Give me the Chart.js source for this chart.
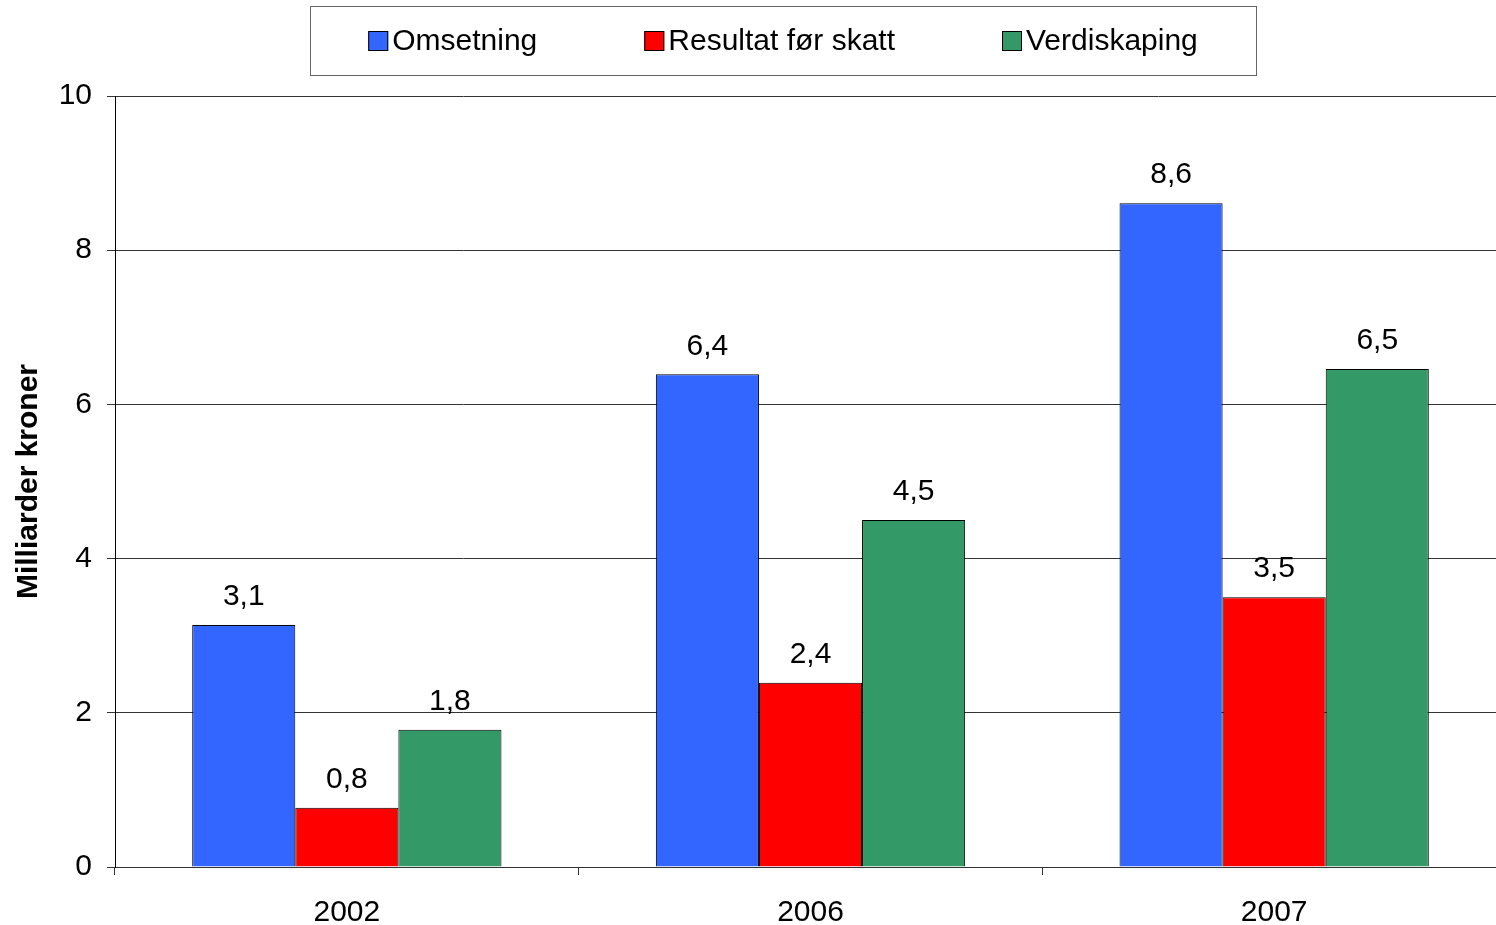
<!DOCTYPE html>
<html>
<head>
<meta charset="utf-8">
<script src="https://cdn.jsdelivr.net/npm/chart.js@4"></script>
<style>
  html, body { margin: 0; padding: 0; background: #fff; overflow: hidden; }
  #wrap { width: 1506px; height: 925px; }
</style>
</head>
<body>
<div id="wrap"><canvas id="myChart"></canvas></div>
<script>
const years = ["2002", "2006", "2007"];
const omsetning = [3.14, 6.39, 8.61];
const resultat = [0.77, 2.39, 3.5];
const verdiskaping = [1.78, 4.5, 6.46];
const yTicks = [0, 2, 4, 6, 8, 10];

const FONT = "'Liberation Sans', Arial, sans-serif";

// legend drawn inside a framed box at the top
const boxLegend = {
  id: "boxLegend",
  afterDraw(chart) {
    const c = chart.ctx;
    const sets = chart.data.datasets;
    c.save();
    c.font = "30px " + FONT;
    c.strokeStyle = "#666";
    c.lineWidth = 1;
    c.strokeRect(310.5, 6.5, 946, 69);
    const sq = 20, gap = 4, space = 107;
    const widths = sets.map((d) => sq + gap + c.measureText(d.label).width);
    const total = widths.reduce((a, b) => a + b, 0) + space * (sets.length - 1);
    let x = 310 + (946 - total) / 2;
    const cy = 41;
    sets.forEach((d, i) => {
      c.fillStyle = d.backgroundColor;
      c.fillRect(x, cy - 10, sq, sq);
      c.strokeStyle = "#000";
      c.strokeRect(x + 0.5, cy - 9.5, sq - 1, sq - 1);
      c.fillStyle = "#000";
      c.textBaseline = "middle";
      c.fillText(d.label, x + sq + gap, cy + 1);
      x += widths[i] + space;
    });
    c.restore();
  },
};

// value labels above bars, comma decimal
const valueLabels = {
  id: "valueLabels",
  afterDatasetsDraw(chart) {
    const c = chart.ctx;
    c.save();
    c.font = "30px " + FONT;
    c.fillStyle = "#000";
    c.textAlign = "center";
    c.textBaseline = "middle";
    chart.data.datasets.forEach((d, di) => {
      chart.getDatasetMeta(di).data.forEach((bar, i) => {
        const txt = d.data[i].toFixed(1).replace(".", ",");
        c.fillText(txt, bar.x, bar.y - 28);
      });
    });
    c.restore();
  },
};

const ctx = document.getElementById("myChart");

new Chart(ctx, {
  type: "bar",
  data: {
    labels: years,
    datasets: [
      { label: "Omsetning", data: omsetning, backgroundColor: "#3366FF" },
      { label: "Resultat før skatt", data: resultat, backgroundColor: "#FF0000" },
      { label: "Verdiskaping", data: verdiskaping, backgroundColor: "#339966" },
    ],
  },
  options: {
    responsive: true,
    maintainAspectRatio: false,
    animation: false,
    devicePixelRatio: 1,
    layout: { padding: { top: 96, left: 0, right: 0, bottom: 0 } },
    datasets: {
      bar: {
        borderColor: "#000",
        borderWidth: 1,
        barPercentage: 1,
        categoryPercentage: 0.667,
      },
    },
    plugins: {
      legend: { display: false },
      tooltip: { enabled: false },
    },
    scales: {
      x: {
        grid: {
          display: true,
          drawOnChartArea: false,
          offset: true,
          color: "#333",
          tickLength: 8,
        },
        border: { color: "#333", width: 1 },
        ticks: {
          color: "#000",
          font: { family: FONT, size: 30 },
          padding: 20,
        },
        afterFit(scale) { scale.height = 58; },
      },
      y: {
        min: 0,
        max: 10,
        afterBuildTicks(scale) {
          scale.ticks = yTicks.map((v) => ({ value: v }));
        },
        grid: { color: "#333", tickLength: 8 },
        border: { color: "#000", width: 1 },
        ticks: {
          color: "#000",
          font: { family: FONT, size: 30 },
          padding: 15,
        },
        title: {
          display: true,
          text: "Milliarder kroner",
          color: "#000",
          font: { family: FONT, size: 30, weight: "bold" },
          padding: { top: 11, bottom: 0 },
        },
        afterFit(scale) { scale.width = 115; },
      },
    },
  },
  plugins: [boxLegend, valueLabels],
});
</script>
</body>
</html>
